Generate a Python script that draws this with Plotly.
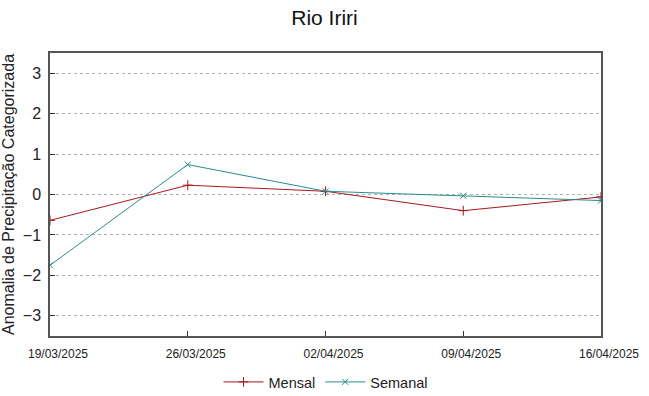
import plotly.graph_objects as go

dates = ["2025-03-19", "2025-03-26", "2025-04-02", "2025-04-09", "2025-04-16"]
tick_labels = ["19/03/2025", "26/03/2025", "02/04/2025", "09/04/2025", "16/04/2025"]
mensal = [-0.64, 0.23, 0.08, -0.40, -0.06]
semanal = [-1.75, 0.74, 0.08, -0.03, -0.15]
y_ticks = [-3, -2, -1, 0, 1, 2, 3]

fig = go.Figure()
fig.add_trace(go.Scatter(x=dates, y=mensal, name="Mensal", mode="lines+markers",
                         line=dict(color="#a8161f", width=1),
                         marker=dict(symbol="cross-thin", size=7, line=dict(color="#a8161f", width=1))))
fig.add_trace(go.Scatter(x=dates, y=semanal, name="Semanal", mode="lines+markers",
                         line=dict(color="#2a8c8c", width=1),
                         marker=dict(symbol="x-thin", size=6, line=dict(color="#2a8c8c", width=1))))

fig.update_layout(
    width=649, height=396,
    margin=dict(l=50, r=48, t=53, b=60, autoexpand=False),
    paper_bgcolor="white", plot_bgcolor="white",
    font=dict(family="Liberation Sans, Arial, sans-serif", color="#222"),
    title=dict(text="Rio Iriri", x=0.5, xanchor="center", y=0.9545, yanchor="middle",
               font=dict(size=21, color="#111")),
    showlegend=True,
    legend=dict(orientation="h", x=0.5, xanchor="center", y=-0.1625, yanchor="middle",
                font=dict(size=14.5), itemwidth=40),
    xaxis=dict(type="date", range=["2025-03-19", "2025-04-16"], automargin=False,
               tickvals=dates, ticktext=tick_labels, tickfont=dict(size=12),
               ticklabelshift=8, ticklabelstandoff=6, showgrid=False, zeroline=False,
               showline=True, linecolor="#555", linewidth=1.5, mirror=True,
               ticks="inside", ticklen=5, tickcolor="#333"),
    yaxis=dict(range=[-3.5, 3.5], tickvals=y_ticks, tickfont=dict(size=16), automargin=False,
               title=dict(text="Anomalia de Precipitação Categorizada", font=dict(size=16), standoff=14),
               ticklabelstandoff=4,
               showgrid=True, gridcolor="#b0b0b0", griddash="dot", gridwidth=1,
               zeroline=False, showline=True, linecolor="#555", linewidth=1.5, mirror=True,
               ticks="inside", ticklen=5, tickcolor="#333"),
)

fig.write_html("out.html", config={"displayModeBar": False},
               post_script="document.body.style.margin='0';")
